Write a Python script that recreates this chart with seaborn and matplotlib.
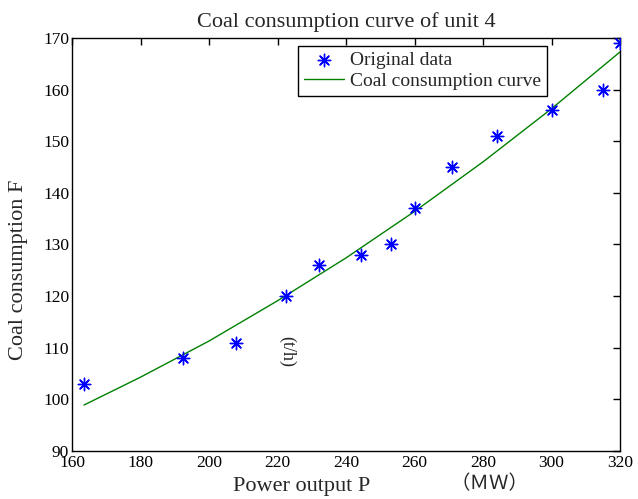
import pandas as pd
import matplotlib.pyplot as plt
import seaborn as sns

# original measurements
power = [163.5, 192.5, 208, 222.5, 232, 244.5, 253, 260, 271, 284, 300, 315, 320]
coal = [103, 108, 111, 120, 126, 128, 130, 137, 145, 151, 156, 160, 169]

# fitted curve
curve_power = [163.5, 180, 200, 220, 240, 260, 280, 300, 320]
curve_coal = [98.9, 104.3, 111.3, 119.1, 127.4, 136.4, 146.0, 156.3, 167.3]

df = pd.DataFrame({'P': power, 'F': coal})
curve = pd.DataFrame({'P': curve_power, 'F': curve_coal})

sns.set_style("white")
plt.rcParams['font.family'] = ['Liberation Serif', 'Noto Sans CJK SC', 'DejaVu Sans']

fig = plt.figure(figsize=(6.38, 4.99), dpi=100)
ax = fig.add_axes([72 / 638, 48 / 499, 548 / 638, 413 / 499])

sns.scatterplot(data=df, x='P', y='F', ax=ax, marker=(8, 2, 0), s=80,
                color='#0000ff', edgecolor='#0000ff', linewidth=1,
                label='Original data', zorder=3)
sns.lineplot(data=curve, x='P', y='F', ax=ax, color='#008000', linewidth=1,
             label='Coal consumption curve')

ax.set_xlim(160, 320)
ax.set_ylim(90, 170)
ax.set_xticks(range(160, 321, 20))
ax.set_yticks(range(90, 171, 10))
ax.tick_params(direction='in', length=5, width=1, top=True, right=True,
               labelsize=12.5, colors='black')
ax.tick_params(axis='x', pad=3)
ax.tick_params(axis='y', pad=2)
for s in ax.spines.values():
    s.set_visible(True)
    s.set_color('black')
    s.set_linewidth(1)

ax.set_title('Coal consumption curve of unit 4', fontsize=16, pad=8)
ax.set_xlabel('')
ax.set_ylabel('')
fig.text(19 / 638, 1 - 270 / 499, 'Coal consumption F', fontsize=16,
         rotation=90, ha='center', va='center')
fig.text(302 / 638, 1 - 486 / 499, 'Power output P', fontsize=16,
         ha='center', va='center')
fig.text(490 / 638, 1 - 484 / 499, '（ＭＷ）', fontsize=14,
         family=['Noto Sans CJK SC', 'DejaVu Sans'], ha='center', va='center')
ax.text(222.8, 109.3, '(t/h)', rotation=270, fontsize=13,
        ha='center', va='center')

leg = ax.legend(loc='upper right', bbox_to_anchor=(0.867, 0.981),
                fontsize=14, frameon=True, fancybox=False, edgecolor='black',
                framealpha=1, handlelength=2.1, handletextpad=0.3,
                borderpad=0.3, labelspacing=0.15, borderaxespad=0)
leg.get_frame().set_linewidth(1)

fig.savefig('out.png', dpi=100)
